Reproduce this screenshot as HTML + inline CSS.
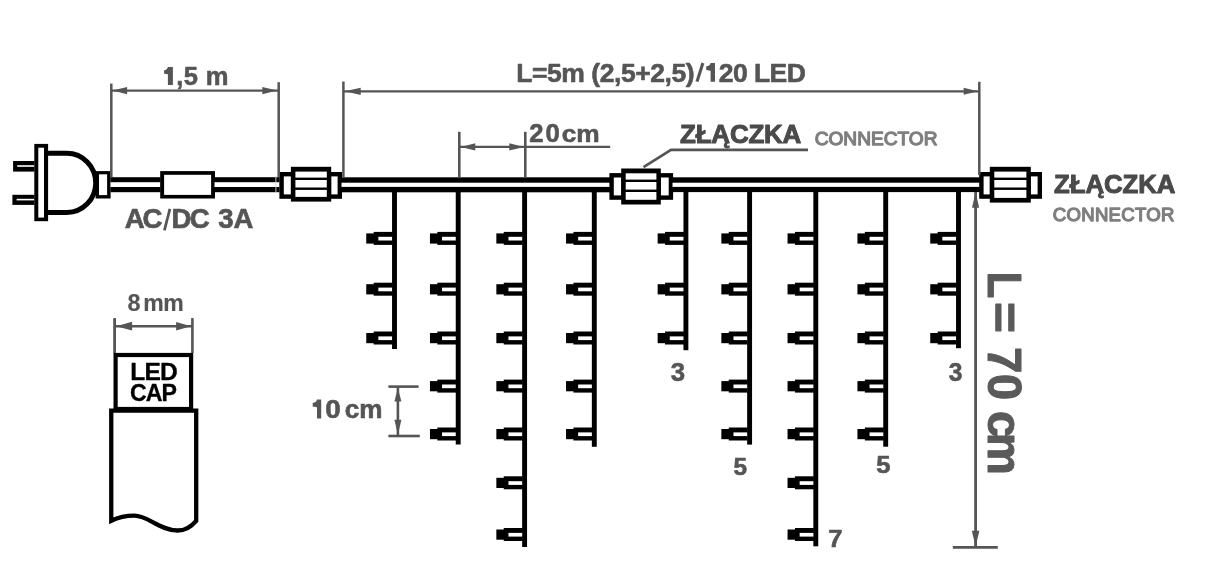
<!DOCTYPE html>
<html><head><meta charset="utf-8"><style>
html,body{margin:0;padding:0;background:#fff;}
svg{display:block;will-change:transform;}
text{font-family:"Liberation Sans", sans-serif;}
</style></head><body>
<svg width="1210" height="584" viewBox="0 0 1210 584">
<rect width="1210" height="584" fill="#fff"/>
<rect x="13.10" y="161.00" width="21.40" height="10.60" fill="#000000"/>
<rect x="17.20" y="165.20" width="17.30" height="1.60" fill="#fff"/>
<rect x="12.40" y="194.80" width="22.10" height="10.10" fill="#000000"/>
<rect x="16.60" y="198.80" width="17.90" height="1.60" fill="#fff"/>
<rect x="34.30" y="143.90" width="13.80" height="77.30" fill="#000000"/>
<rect x="38.30" y="147.70" width="5.70" height="69.90" fill="#fff"/>
<path d="M47,153.3 H66.8 A28.9,29.6 0 0 1 66.8,212.5 H47" fill="none" stroke="#000" stroke-width="5.0"/>
<rect x="95.60" y="171.10" width="15.00" height="27.40" fill="#000000"/>
<rect x="99.00" y="174.30" width="8.10" height="20.80" fill="#fff"/>
<rect x="110.50" y="177.20" width="50.00" height="15.00" fill="#000000"/>
<rect x="110.50" y="182.20" width="50.00" height="4.80" fill="#fff"/>
<rect x="160.20" y="171.10" width="54.80" height="27.40" fill="#000000"/>
<rect x="164.10" y="174.80" width="47.00" height="20.10" fill="#fff"/>
<rect x="214.50" y="177.20" width="65.10" height="15.00" fill="#000000"/>
<rect x="214.50" y="182.20" width="65.10" height="4.80" fill="#fff"/>
<rect x="279.40" y="172.00" width="62.60" height="26.80" fill="#000000"/>
<rect x="283.80" y="176.40" width="7.10" height="18.00" fill="#fff"/>
<rect x="331.20" y="176.40" width="6.40" height="18.00" fill="#fff"/>
<rect x="290.90" y="166.80" width="40.30" height="34.80" fill="#000000"/>
<rect x="295.40" y="171.60" width="31.40" height="25.30" fill="#fff"/>
<rect x="291.90" y="177.60" width="38.30" height="2.40" fill="#000000"/>
<rect x="291.90" y="187.50" width="38.30" height="2.40" fill="#000000"/>
<rect x="341.50" y="177.30" width="268.50" height="15.00" fill="#000000"/>
<rect x="341.50" y="182.70" width="268.50" height="4.20" fill="#fff"/>
<rect x="609.40" y="173.10" width="63.70" height="26.70" fill="#000000"/>
<rect x="613.80" y="177.50" width="7.40" height="17.90" fill="#fff"/>
<rect x="660.80" y="177.50" width="7.90" height="17.90" fill="#fff"/>
<rect x="621.20" y="168.50" width="39.60" height="36.00" fill="#000000"/>
<rect x="625.70" y="173.30" width="30.70" height="26.50" fill="#fff"/>
<rect x="622.20" y="179.60" width="37.60" height="2.40" fill="#000000"/>
<rect x="622.20" y="189.60" width="37.60" height="2.40" fill="#000000"/>
<rect x="672.50" y="177.30" width="307.50" height="14.80" fill="#000000"/>
<rect x="672.50" y="182.70" width="307.50" height="4.20" fill="#fff"/>
<rect x="979.20" y="172.00" width="62.80" height="26.80" fill="#000000"/>
<rect x="983.60" y="176.40" width="6.20" height="18.00" fill="#fff"/>
<rect x="1030.80" y="176.40" width="6.80" height="18.00" fill="#fff"/>
<rect x="989.80" y="166.80" width="41.00" height="35.80" fill="#000000"/>
<rect x="994.30" y="171.60" width="32.10" height="26.30" fill="#fff"/>
<rect x="990.80" y="177.60" width="39.00" height="2.40" fill="#000000"/>
<rect x="990.80" y="187.50" width="39.00" height="2.40" fill="#000000"/>
<rect x="392.05" y="190.00" width="4.90" height="159.00" fill="#000000"/>
<rect x="366.25" y="233.40" width="8.00" height="10.20" fill="#000000"/>
<rect x="373.65" y="231.90" width="18.90" height="13.00" fill="#000000"/>
<rect x="378.35" y="236.80" width="13.70" height="3.70" fill="#fff"/>
<rect x="366.25" y="284.20" width="8.00" height="10.20" fill="#000000"/>
<rect x="373.65" y="282.70" width="18.90" height="13.00" fill="#000000"/>
<rect x="378.35" y="287.60" width="13.70" height="3.70" fill="#fff"/>
<rect x="366.25" y="333.00" width="8.00" height="10.20" fill="#000000"/>
<rect x="373.65" y="331.50" width="18.90" height="13.00" fill="#000000"/>
<rect x="378.35" y="336.40" width="13.70" height="3.70" fill="#fff"/>
<rect x="455.75" y="190.00" width="4.90" height="254.50" fill="#000000"/>
<rect x="429.95" y="233.40" width="8.00" height="10.20" fill="#000000"/>
<rect x="437.35" y="231.90" width="18.90" height="13.00" fill="#000000"/>
<rect x="442.05" y="236.80" width="13.70" height="3.70" fill="#fff"/>
<rect x="429.95" y="284.20" width="8.00" height="10.20" fill="#000000"/>
<rect x="437.35" y="282.70" width="18.90" height="13.00" fill="#000000"/>
<rect x="442.05" y="287.60" width="13.70" height="3.70" fill="#fff"/>
<rect x="429.95" y="333.00" width="8.00" height="10.20" fill="#000000"/>
<rect x="437.35" y="331.50" width="18.90" height="13.00" fill="#000000"/>
<rect x="442.05" y="336.40" width="13.70" height="3.70" fill="#fff"/>
<rect x="429.95" y="381.10" width="8.00" height="10.20" fill="#000000"/>
<rect x="437.35" y="379.60" width="18.90" height="13.00" fill="#000000"/>
<rect x="442.05" y="384.50" width="13.70" height="3.70" fill="#fff"/>
<rect x="429.95" y="429.00" width="8.00" height="10.20" fill="#000000"/>
<rect x="437.35" y="427.50" width="18.90" height="13.00" fill="#000000"/>
<rect x="442.05" y="432.40" width="13.70" height="3.70" fill="#fff"/>
<rect x="522.15" y="190.00" width="4.90" height="357.00" fill="#000000"/>
<rect x="496.35" y="233.40" width="8.00" height="10.20" fill="#000000"/>
<rect x="503.75" y="231.90" width="18.90" height="13.00" fill="#000000"/>
<rect x="508.45" y="236.80" width="13.70" height="3.70" fill="#fff"/>
<rect x="496.35" y="284.20" width="8.00" height="10.20" fill="#000000"/>
<rect x="503.75" y="282.70" width="18.90" height="13.00" fill="#000000"/>
<rect x="508.45" y="287.60" width="13.70" height="3.70" fill="#fff"/>
<rect x="496.35" y="333.00" width="8.00" height="10.20" fill="#000000"/>
<rect x="503.75" y="331.50" width="18.90" height="13.00" fill="#000000"/>
<rect x="508.45" y="336.40" width="13.70" height="3.70" fill="#fff"/>
<rect x="496.35" y="381.10" width="8.00" height="10.20" fill="#000000"/>
<rect x="503.75" y="379.60" width="18.90" height="13.00" fill="#000000"/>
<rect x="508.45" y="384.50" width="13.70" height="3.70" fill="#fff"/>
<rect x="496.35" y="429.00" width="8.00" height="10.20" fill="#000000"/>
<rect x="503.75" y="427.50" width="18.90" height="13.00" fill="#000000"/>
<rect x="508.45" y="432.40" width="13.70" height="3.70" fill="#fff"/>
<rect x="496.35" y="477.80" width="8.00" height="10.20" fill="#000000"/>
<rect x="503.75" y="476.30" width="18.90" height="13.00" fill="#000000"/>
<rect x="508.45" y="481.20" width="13.70" height="3.70" fill="#fff"/>
<rect x="496.35" y="529.50" width="8.00" height="10.20" fill="#000000"/>
<rect x="503.75" y="528.00" width="18.90" height="13.00" fill="#000000"/>
<rect x="508.45" y="532.90" width="13.70" height="3.70" fill="#fff"/>
<rect x="591.85" y="190.00" width="4.90" height="256.80" fill="#000000"/>
<rect x="566.05" y="233.40" width="8.00" height="10.20" fill="#000000"/>
<rect x="573.45" y="231.90" width="18.90" height="13.00" fill="#000000"/>
<rect x="578.15" y="236.80" width="13.70" height="3.70" fill="#fff"/>
<rect x="566.05" y="284.20" width="8.00" height="10.20" fill="#000000"/>
<rect x="573.45" y="282.70" width="18.90" height="13.00" fill="#000000"/>
<rect x="578.15" y="287.60" width="13.70" height="3.70" fill="#fff"/>
<rect x="566.05" y="333.00" width="8.00" height="10.20" fill="#000000"/>
<rect x="573.45" y="331.50" width="18.90" height="13.00" fill="#000000"/>
<rect x="578.15" y="336.40" width="13.70" height="3.70" fill="#fff"/>
<rect x="566.05" y="381.10" width="8.00" height="10.20" fill="#000000"/>
<rect x="573.45" y="379.60" width="18.90" height="13.00" fill="#000000"/>
<rect x="578.15" y="384.50" width="13.70" height="3.70" fill="#fff"/>
<rect x="566.05" y="429.00" width="8.00" height="10.20" fill="#000000"/>
<rect x="573.45" y="427.50" width="18.90" height="13.00" fill="#000000"/>
<rect x="578.15" y="432.40" width="13.70" height="3.70" fill="#fff"/>
<rect x="683.45" y="190.00" width="4.90" height="160.20" fill="#000000"/>
<rect x="657.65" y="233.40" width="8.00" height="10.20" fill="#000000"/>
<rect x="665.05" y="231.90" width="18.90" height="13.00" fill="#000000"/>
<rect x="669.75" y="236.80" width="13.70" height="3.70" fill="#fff"/>
<rect x="657.65" y="284.20" width="8.00" height="10.20" fill="#000000"/>
<rect x="665.05" y="282.70" width="18.90" height="13.00" fill="#000000"/>
<rect x="669.75" y="287.60" width="13.70" height="3.70" fill="#fff"/>
<rect x="657.65" y="333.00" width="8.00" height="10.20" fill="#000000"/>
<rect x="665.05" y="331.50" width="18.90" height="13.00" fill="#000000"/>
<rect x="669.75" y="336.40" width="13.70" height="3.70" fill="#fff"/>
<rect x="747.15" y="190.00" width="4.90" height="254.60" fill="#000000"/>
<rect x="721.35" y="233.40" width="8.00" height="10.20" fill="#000000"/>
<rect x="728.75" y="231.90" width="18.90" height="13.00" fill="#000000"/>
<rect x="733.45" y="236.80" width="13.70" height="3.70" fill="#fff"/>
<rect x="721.35" y="284.20" width="8.00" height="10.20" fill="#000000"/>
<rect x="728.75" y="282.70" width="18.90" height="13.00" fill="#000000"/>
<rect x="733.45" y="287.60" width="13.70" height="3.70" fill="#fff"/>
<rect x="721.35" y="333.00" width="8.00" height="10.20" fill="#000000"/>
<rect x="728.75" y="331.50" width="18.90" height="13.00" fill="#000000"/>
<rect x="733.45" y="336.40" width="13.70" height="3.70" fill="#fff"/>
<rect x="721.35" y="381.10" width="8.00" height="10.20" fill="#000000"/>
<rect x="728.75" y="379.60" width="18.90" height="13.00" fill="#000000"/>
<rect x="733.45" y="384.50" width="13.70" height="3.70" fill="#fff"/>
<rect x="721.35" y="429.00" width="8.00" height="10.20" fill="#000000"/>
<rect x="728.75" y="427.50" width="18.90" height="13.00" fill="#000000"/>
<rect x="733.45" y="432.40" width="13.70" height="3.70" fill="#fff"/>
<rect x="813.35" y="190.00" width="4.90" height="356.30" fill="#000000"/>
<rect x="787.55" y="233.40" width="8.00" height="10.20" fill="#000000"/>
<rect x="794.95" y="231.90" width="18.90" height="13.00" fill="#000000"/>
<rect x="799.65" y="236.80" width="13.70" height="3.70" fill="#fff"/>
<rect x="787.55" y="284.20" width="8.00" height="10.20" fill="#000000"/>
<rect x="794.95" y="282.70" width="18.90" height="13.00" fill="#000000"/>
<rect x="799.65" y="287.60" width="13.70" height="3.70" fill="#fff"/>
<rect x="787.55" y="333.00" width="8.00" height="10.20" fill="#000000"/>
<rect x="794.95" y="331.50" width="18.90" height="13.00" fill="#000000"/>
<rect x="799.65" y="336.40" width="13.70" height="3.70" fill="#fff"/>
<rect x="787.55" y="381.10" width="8.00" height="10.20" fill="#000000"/>
<rect x="794.95" y="379.60" width="18.90" height="13.00" fill="#000000"/>
<rect x="799.65" y="384.50" width="13.70" height="3.70" fill="#fff"/>
<rect x="787.55" y="429.00" width="8.00" height="10.20" fill="#000000"/>
<rect x="794.95" y="427.50" width="18.90" height="13.00" fill="#000000"/>
<rect x="799.65" y="432.40" width="13.70" height="3.70" fill="#fff"/>
<rect x="787.55" y="477.80" width="8.00" height="10.20" fill="#000000"/>
<rect x="794.95" y="476.30" width="18.90" height="13.00" fill="#000000"/>
<rect x="799.65" y="481.20" width="13.70" height="3.70" fill="#fff"/>
<rect x="787.55" y="529.50" width="8.00" height="10.20" fill="#000000"/>
<rect x="794.95" y="528.00" width="18.90" height="13.00" fill="#000000"/>
<rect x="799.65" y="532.90" width="13.70" height="3.70" fill="#fff"/>
<rect x="883.25" y="190.00" width="4.90" height="256.70" fill="#000000"/>
<rect x="857.45" y="233.40" width="8.00" height="10.20" fill="#000000"/>
<rect x="864.85" y="231.90" width="18.90" height="13.00" fill="#000000"/>
<rect x="869.55" y="236.80" width="13.70" height="3.70" fill="#fff"/>
<rect x="857.45" y="284.20" width="8.00" height="10.20" fill="#000000"/>
<rect x="864.85" y="282.70" width="18.90" height="13.00" fill="#000000"/>
<rect x="869.55" y="287.60" width="13.70" height="3.70" fill="#fff"/>
<rect x="857.45" y="333.00" width="8.00" height="10.20" fill="#000000"/>
<rect x="864.85" y="331.50" width="18.90" height="13.00" fill="#000000"/>
<rect x="869.55" y="336.40" width="13.70" height="3.70" fill="#fff"/>
<rect x="857.45" y="381.10" width="8.00" height="10.20" fill="#000000"/>
<rect x="864.85" y="379.60" width="18.90" height="13.00" fill="#000000"/>
<rect x="869.55" y="384.50" width="13.70" height="3.70" fill="#fff"/>
<rect x="857.45" y="429.00" width="8.00" height="10.20" fill="#000000"/>
<rect x="864.85" y="427.50" width="18.90" height="13.00" fill="#000000"/>
<rect x="869.55" y="432.40" width="13.70" height="3.70" fill="#fff"/>
<rect x="956.05" y="190.00" width="4.90" height="158.20" fill="#000000"/>
<rect x="930.25" y="233.40" width="8.00" height="10.20" fill="#000000"/>
<rect x="937.65" y="231.90" width="18.90" height="13.00" fill="#000000"/>
<rect x="942.35" y="236.80" width="13.70" height="3.70" fill="#fff"/>
<rect x="930.25" y="284.20" width="8.00" height="10.20" fill="#000000"/>
<rect x="937.65" y="282.70" width="18.90" height="13.00" fill="#000000"/>
<rect x="942.35" y="287.60" width="13.70" height="3.70" fill="#fff"/>
<rect x="930.25" y="333.00" width="8.00" height="10.20" fill="#000000"/>
<rect x="937.65" y="331.50" width="18.90" height="13.00" fill="#000000"/>
<rect x="942.35" y="336.40" width="13.70" height="3.70" fill="#fff"/>
<line x1="111.30" y1="83.60" x2="111.30" y2="177.00" stroke="#555555" stroke-width="2.5"/>
<line x1="278.70" y1="82.20" x2="278.70" y2="177.00" stroke="#555555" stroke-width="2.5"/>
<line x1="111.30" y1="90.60" x2="278.70" y2="90.60" stroke="#555555" stroke-width="2.3"/>
<polygon points="112.60,90.60 127.10,86.90 127.10,94.30" fill="#555555"/>
<polygon points="277.30,90.60 262.30,94.30 262.30,86.90" fill="#555555"/>
<line x1="275.90" y1="176.00" x2="275.90" y2="193.00" stroke="#d0d0d0" stroke-width="0.9"/>
<path d="M167.90,66.90 H172.90 V85.10 H167.90 V74.36 L164.10,73.63 V70.18 C166.38,69.99 167.70,68.36 167.90,66.90 Z" fill="#555555"/>
<text x="176.31" y="84.80" font-size="25.51" font-weight="bold" fill="#555555" stroke="#555555" stroke-width="0.6" stroke-linejoin="round" letter-spacing="0.334" >,5 m</text>
<line x1="343.40" y1="81.50" x2="343.40" y2="177.50" stroke="#555555" stroke-width="2.5"/>
<line x1="979.30" y1="81.80" x2="979.30" y2="175.00" stroke="#555555" stroke-width="2.5"/>
<line x1="343.40" y1="91.30" x2="979.30" y2="91.30" stroke="#555555" stroke-width="2.2"/>
<polygon points="344.70,91.30 360.70,87.70 360.70,94.90" fill="#555555"/>
<polygon points="978.10,91.30 963.60,94.80 963.60,87.80" fill="#555555"/>
<text x="516.34" y="81.50" font-size="26.52" font-weight="bold" fill="#555555" stroke="#555555" stroke-width="0.6" stroke-linejoin="round" letter-spacing="-0.465" >L=5m (2,5+2,5)</text>
<line x1="697.0" y1="81.6" x2="702.9" y2="63.0" stroke="#555555" stroke-width="3.1"/>
<path d="M710.60,62.90 H715.00 V81.80 H710.60 V70.65 L706.20,69.89 V66.30 C708.84,66.11 710.40,64.41 710.60,62.90 Z" fill="#555555"/>
<text x="718.70" y="81.50" font-size="26.52" font-weight="bold" fill="#555555" stroke="#555555" stroke-width="0.6" stroke-linejoin="round" letter-spacing="-0.550" >20 LED</text>
<text x="124.72" y="227.95" font-size="27.57" font-weight="bold" fill="#555555" stroke="#555555" stroke-width="0.7" stroke-linejoin="round" letter-spacing="-2.049" >AC</text>
<line x1="169.9" y1="208.9" x2="164.4" y2="230.4" stroke="#555555" stroke-width="2.7"/>
<text x="171.42" y="227.95" font-size="27.57" font-weight="bold" fill="#555555" stroke="#555555" stroke-width="0.7" stroke-linejoin="round" letter-spacing="-1.546" >DC</text>
<text x="218.20" y="227.95" font-size="27.57" font-weight="bold" fill="#555555" stroke="#555555" stroke-width="0.7" stroke-linejoin="round" letter-spacing="-0.013" >3A</text>
<line x1="459.30" y1="131.80" x2="459.30" y2="177.50" stroke="#555555" stroke-width="2.6"/>
<line x1="525.30" y1="131.80" x2="525.30" y2="177.50" stroke="#555555" stroke-width="2.6"/>
<line x1="459.30" y1="146.90" x2="610.20" y2="146.90" stroke="#555555" stroke-width="2.1"/>
<polygon points="460.60,146.90 475.30,143.30 475.30,150.50" fill="#555555"/>
<polygon points="524.00,146.90 509.30,150.50 509.30,143.30" fill="#555555"/>
<text x="529.33" y="142.30" font-size="25.71" font-weight="bold" fill="#555555" stroke="#555555" stroke-width="0.6" stroke-linejoin="round" letter-spacing="1.857" >20</text>
<text x="561.75" y="142.30" font-size="24.44" font-weight="bold" fill="#555555" stroke="#555555" stroke-width="0.6" stroke-linejoin="round" textLength="37.97" lengthAdjust="spacingAndGlyphs" >cm</text>
<polyline points="643.5,167.2 671,149.8 808,149.8" fill="none" stroke="#555555" stroke-width="2.7"/>
<text x="680.12" y="143.40" font-size="25.94" font-weight="bold" fill="#4a4a4a" stroke="#4a4a4a" stroke-width="1.0" stroke-linejoin="round" letter-spacing="-0.215" >ZŁĄCZKA</text>
<text x="814.69" y="145.05" font-size="19.13" font-weight="normal" fill="#7f7f7f" stroke="#7f7f7f" stroke-width="1.3" stroke-linejoin="round" letter-spacing="-0.001" >CONNECTOR</text>
<text x="1054.03" y="192.60" font-size="25.80" font-weight="bold" fill="#4a4a4a" stroke="#4a4a4a" stroke-width="1.0" stroke-linejoin="round" letter-spacing="-0.052" >ZŁĄCZKA</text>
<text x="1052.82" y="221.05" font-size="18.55" font-weight="normal" fill="#7f7f7f" stroke="#7f7f7f" stroke-width="1.3" stroke-linejoin="round" letter-spacing="0.295" >CONNECTOR</text>
<line x1="975.60" y1="192.00" x2="975.60" y2="546.00" stroke="#555555" stroke-width="2.8"/>
<polygon points="975.60,192.20 979.20,207.70 972.00,207.70" fill="#555555"/>
<polygon points="975.60,546.30 971.80,530.80 979.40,530.80" fill="#555555"/>
<line x1="952.80" y1="547.30" x2="997.80" y2="547.30" stroke="#555555" stroke-width="2.8"/>
<text x="271.51" y="0.00" font-size="47.54" font-weight="bold" fill="#5a5a5a" stroke="#5a5a5a" stroke-width="1.0" stroke-linejoin="round" textLength="26.95" lengthAdjust="spacingAndGlyphs" transform="translate(988.20,0) rotate(90)">L</text>
<text x="301.66" y="0.00" font-size="47.54" font-weight="bold" fill="#5a5a5a" stroke="#5a5a5a" stroke-width="1.0" stroke-linejoin="round" textLength="31.31" lengthAdjust="spacingAndGlyphs" transform="translate(988.20,0) rotate(90)">=</text>
<text x="347.10" y="0.00" font-size="47.54" font-weight="bold" fill="#5a5a5a" stroke="#5a5a5a" stroke-width="1.0" stroke-linejoin="round" letter-spacing="0.238" transform="translate(988.20,0) rotate(90)">70</text>
<text x="411.10" y="0.00" font-size="47.54" font-weight="bold" fill="#5a5a5a" stroke="#5a5a5a" stroke-width="1.0" stroke-linejoin="round" letter-spacing="-4.699" transform="translate(988.20,0) rotate(90)">cm</text>
<text x="670.88" y="380.80" font-size="25.71" font-weight="bold" fill="#555555" stroke="#555555" stroke-width="0.6" stroke-linejoin="round" textLength="14.35" lengthAdjust="spacingAndGlyphs" >3</text>
<text x="733.57" y="475.40" font-size="24.43" font-weight="bold" fill="#555555" stroke="#555555" stroke-width="0.6" stroke-linejoin="round" textLength="13.57" lengthAdjust="spacingAndGlyphs" >5</text>
<text x="828.28" y="546.60" font-size="24.71" font-weight="bold" fill="#555555" stroke="#555555" stroke-width="0.6" stroke-linejoin="round" textLength="14.20" lengthAdjust="spacingAndGlyphs" >7</text>
<text x="876.33" y="473.30" font-size="24.43" font-weight="bold" fill="#555555" stroke="#555555" stroke-width="0.6" stroke-linejoin="round" textLength="14.24" lengthAdjust="spacingAndGlyphs" >5</text>
<text x="948.81" y="381.10" font-size="25.29" font-weight="bold" fill="#555555" stroke="#555555" stroke-width="0.6" stroke-linejoin="round" textLength="13.68" lengthAdjust="spacingAndGlyphs" >3</text>
<line x1="388.40" y1="386.60" x2="418.60" y2="386.60" stroke="#555555" stroke-width="2.6"/>
<line x1="388.40" y1="436.00" x2="419.80" y2="436.00" stroke="#555555" stroke-width="2.6"/>
<line x1="397.90" y1="386.60" x2="397.90" y2="436.00" stroke="#555555" stroke-width="2.6"/>
<polygon points="397.90,387.90 401.40,401.40 394.40,401.40" fill="#555555"/>
<polygon points="397.90,434.80 394.40,419.80 401.40,419.80" fill="#555555"/>
<path d="M317.00,399.60 H321.20 V418.40 H317.00 V407.31 L312.70,406.56 V402.98 C315.28,402.80 316.80,401.10 317.00,399.60 Z" fill="#555555"/>
<text x="325.29" y="418.20" font-size="26.29" font-weight="bold" fill="#555555" stroke="#555555" stroke-width="0.6" stroke-linejoin="round" textLength="15.50" lengthAdjust="spacingAndGlyphs" >0</text>
<text x="344.66" y="418.20" font-size="25.00" font-weight="bold" fill="#555555" stroke="#555555" stroke-width="0.6" stroke-linejoin="round" textLength="37.75" lengthAdjust="spacingAndGlyphs" >cm</text>
<line x1="114.60" y1="318.10" x2="114.60" y2="353.00" stroke="#555555" stroke-width="2.8"/>
<line x1="192.40" y1="318.10" x2="192.40" y2="353.00" stroke="#555555" stroke-width="2.6"/>
<line x1="114.60" y1="326.20" x2="192.40" y2="326.20" stroke="#555555" stroke-width="2.4"/>
<polygon points="116.10,326.20 132.10,321.80 132.10,330.60" fill="#555555"/>
<polygon points="191.10,326.20 176.10,330.50 176.10,321.90" fill="#555555"/>
<text x="127.47" y="310.53" font-size="23.64" font-weight="bold" fill="#555555" stroke="#555555" stroke-width="0.15" stroke-linejoin="round" textLength="13.07" lengthAdjust="spacingAndGlyphs" >8</text>
<text x="143.36" y="310.53" font-size="23.06" font-weight="bold" fill="#555555" stroke="#555555" stroke-width="0.15" stroke-linejoin="round" letter-spacing="-0.592" >mm</text>
<rect x="115.6" y="355" width="75.5" height="54" fill="none" stroke="#000" stroke-width="4.2"/>
<text x="130.23" y="380.45" font-size="24.64" font-weight="bold" fill="#000000" stroke="#000000" stroke-width="0.3" stroke-linejoin="round" letter-spacing="-0.833" >LED</text>
<text x="130.02" y="401.45" font-size="23.14" font-weight="bold" fill="#000000" stroke="#000000" stroke-width="0.3" stroke-linejoin="round" letter-spacing="-0.906" >CAP</text>
<path d="M111.25,410.6 H196.2 V520.8 C192,525.8 186,530.5 177.7,530.5 C160,530.5 148,515.7 134.5,515.7 C126,515.7 118,517.5 111.25,520.8 Z" fill="#fff" stroke="#000" stroke-width="4.3"/>
</svg></body></html>
